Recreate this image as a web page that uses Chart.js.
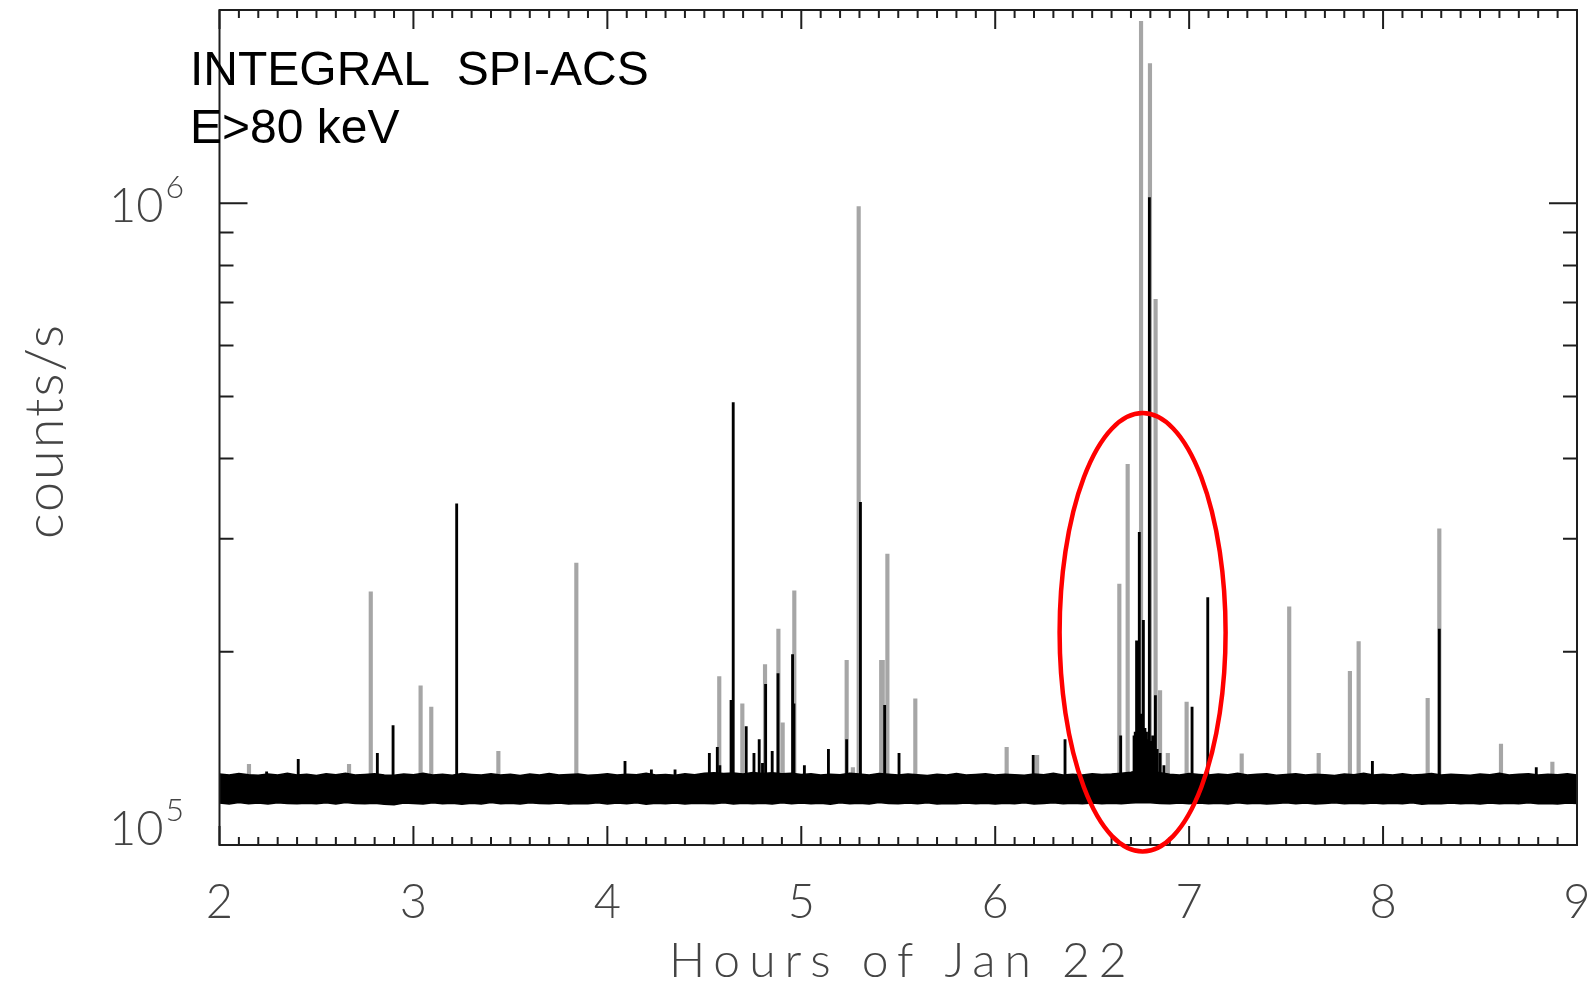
<!DOCTYPE html>
<html>
<head>
<meta charset="utf-8">
<title>INTEGRAL SPI-ACS, Jan 22</title>
<script src="https://cdn.jsdelivr.net/npm/chart.js@4.4.1/dist/chart.umd.min.js"></script>
<style>
  html, body { margin: 0; padding: 0; background: #fff; }
  #wrap { width: 1593px; height: 983px; position: relative; }
</style>
</head>
<body>
<div id="wrap"><canvas id="lc"></canvas></div>
<script>
// axes: hours of Jan 22 vs counts/s (log)
const xMin = 2, xMax = 9;
const yMin = 1e5, yMax = 2e6;
const xTickLabels = ['2', '3', '4', '5', '6', '7', '8', '9'];
const yMajorTicks = [1e5, 1e6];
const yMajorExp = ['5', '6'];
const yMinorTicks = [2e5, 3e5, 4e5, 5e5, 6e5, 7e5, 8e5, 9e5];

// noisy background level, upper and lower edge of the band
const bandTimes = [
  2.00, 2.05, 2.10, 2.15, 2.20, 2.25, 2.30, 2.35, 2.40, 2.45,
  2.50, 2.55, 2.60, 2.65, 2.70, 2.75, 2.80, 2.85, 2.90, 2.95,
  3.00, 3.05, 3.10, 3.15, 3.20, 3.25, 3.30, 3.35, 3.40, 3.45,
  3.50, 3.55, 3.60, 3.65, 3.70, 3.75, 3.80, 3.85, 3.90, 3.95,
  4.00, 4.05, 4.10, 4.15, 4.20, 4.25, 4.30, 4.35, 4.40, 4.45,
  4.50, 4.55, 4.60, 4.65, 4.70, 4.75, 4.80, 4.85, 4.90, 4.95,
  5.00, 5.05, 5.10, 5.15, 5.20, 5.25, 5.30, 5.35, 5.40, 5.45,
  5.50, 5.55, 5.60, 5.65, 5.70, 5.75, 5.80, 5.85, 5.90, 5.95,
  6.00, 6.05, 6.10, 6.15, 6.20, 6.25, 6.30, 6.35, 6.40, 6.45,
  6.50, 6.55, 6.60, 6.65, 6.70, 6.75, 6.80, 6.85, 6.90, 6.95,
  7.00, 7.05, 7.10, 7.15, 7.20, 7.25, 7.30, 7.35, 7.40, 7.45,
  7.50, 7.55, 7.60, 7.65, 7.70, 7.75, 7.80, 7.85, 7.90, 7.95,
  8.00, 8.05, 8.10, 8.15, 8.20, 8.25, 8.30, 8.35, 8.40, 8.45,
  8.50, 8.55, 8.60, 8.65, 8.70, 8.75, 8.80, 8.85, 8.90, 8.95,
  9.00
];
const bandHigh = [
  129000, 128600, 129200, 128700, 128400, 129000, 128600, 129300, 128500, 128900,
  128300, 129100, 128700, 129300, 128500, 128800, 129100, 128600, 128400, 129000,
  128700, 129400, 128500, 128900, 128400, 129200, 128800, 128500, 129100, 128600,
  128900, 128300, 129000, 128600, 129200, 128500, 128800, 129000, 128400, 128700,
  129100, 128500, 128900, 128700, 129300, 128600, 128800, 128400, 129100, 128700,
  129400, 129600, 129200, 129500, 129000, 129700, 129300, 129600, 129100, 129400,
  128800, 129100, 128500, 128900, 128700, 129300, 129000, 128600, 129200, 128900,
  128500, 129000, 128700, 128300, 128900, 128600, 129200, 128500, 128800, 129100,
  128500, 128900, 128700, 128400, 129000, 128700, 129300, 128600, 128900, 128500,
  129100, 128800, 129000, 129400, 129800, 130800, 130300, 129600, 128900, 128600,
  129200, 128800, 128500, 129000, 128700, 129300, 128600, 128900, 129100, 128400,
  128800, 129100, 128600, 128900, 128700, 128300, 129000, 128700, 129300, 128500,
  128900, 128600, 129100, 128500, 128800, 129200, 128600, 128900, 128700, 128400,
  129000, 128700, 129300, 128600, 128900, 129100, 128500, 128900, 128700, 129100,
  128600
];
const bandLow = [
  116300, 115900, 116500, 116000, 116300, 115800, 116400, 116100, 115900, 116200,
  116000, 116400, 115800, 116500, 116100, 115900, 116200, 115700, 115500, 116300,
  116100, 115800, 116400, 116000, 116200, 115700, 116200, 115900, 116500, 116000,
  116200, 115800, 116400, 116100, 115900, 116300, 115800, 116100, 116000, 116400,
  115900, 116300, 116000, 116400, 115700, 116200, 115900, 116300, 115800, 116200,
  116100, 115900, 116400, 115800, 116200, 116000, 116200, 115800, 116400, 116000,
  116300, 115900, 116200, 115700, 116400, 116000, 116200, 115800, 116500, 116100,
  115900, 116300, 116000, 116400, 115800, 116100, 115900, 116300, 116000, 116200,
  115800, 116200, 116000, 116400, 115800, 116100, 116400, 115900, 116200, 116000,
  116300, 115900, 116200, 116000, 116300, 116500, 116400, 116100, 115900, 116300,
  116000, 116300, 115900, 116200, 115800, 116400, 116000, 116200, 115800, 116100,
  116400, 116000, 116300, 115800, 116100, 116400, 115900, 116200, 116000, 116300,
  115900, 116200, 116000, 116400, 115700, 116100, 115900, 116300, 116000, 116200,
  115800, 116300, 116000, 116200, 115900, 116400, 116000, 116100, 115800, 116300,
  116100
];

// spikes in the grey curve
const grayTimes = [
  2.152, 2.668, 2.780, 3.037, 3.092, 3.438, 3.840, 4.577, 4.696, 4.813,
  4.882, 4.904, 4.964, 5.234, 5.266, 5.296, 5.412, 5.420, 5.444, 5.588,
  6.059, 6.216, 6.640, 6.683, 6.752, 6.798, 6.827, 6.850, 6.890, 6.987,
  7.271, 7.516, 7.668, 7.829, 7.874, 8.230, 8.290, 8.608, 8.873
];
const grayPeaks = [
  133600, 133600, 248000, 177000, 164000, 140000, 275000, 183000, 166000, 191000,
  217000, 155000, 249000, 194000, 132000, 988000, 194000, 194000, 284000, 169000,
  142000, 138000, 255000, 392000, 1920000, 1650000, 708000, 174000, 139000, 167000,
  138700, 235000, 139000, 186400, 207500, 169300, 311000, 143600, 134600
];

// spikes in the black curve
const blackTimes = [
  2.243, 2.406, 2.814, 2.895, 3.223, 4.091, 4.227, 4.349, 4.526, 4.567,
  4.580, 4.638, 4.649, 4.716, 4.756, 4.783, 4.800, 4.816, 4.850, 4.880,
  4.955, 4.962, 5.016, 5.140, 5.234, 5.305, 5.430, 5.504, 6.196, 6.360,
  6.647, 6.716, 6.722, 6.729, 6.735, 6.743, 6.750, 6.757, 6.764, 6.772,
  6.780, 6.788, 6.795, 6.805, 6.812, 6.826, 6.835, 6.850, 6.870, 7.015,
  7.096, 7.945, 8.290, 8.790
];
const blackPeaks = [
  130000, 136000, 139000, 153500, 340000, 135000, 131000, 131000, 139000, 142000,
  133000, 168000, 489000, 153000, 139000, 146000, 134000, 178000, 140000, 185000,
  198000, 166000, 133000, 141000, 146000, 342000, 165000, 139000, 138000, 146000,
  148000, 148000, 150000, 208000, 152000, 307000, 160000, 155000, 224000, 152000,
  150000, 146000, 1020000, 145000, 148000, 171000, 141000, 139000, 133000, 164000,
  243000, 135000, 217000, 132000
];
const spikeBase = 122000;

// red ring drawn round the burst
const ringCentre = 6.76, ringHalfWidth = 0.428, ringTop = 471000, ringBottom = 97700;

const thinFont = 'Lato, "DejaVu Sans", sans-serif';

const frame = {
	id: 'frame',
	afterDraw(chart) {
		const ctx = chart.ctx;
		const a = chart.chartArea;
		const x = chart.scales.x, y = chart.scales.y;
		ctx.save();

		// box and inward ticks
		ctx.strokeStyle = '#1e1e1e';
		ctx.lineWidth = 2;
		ctx.strokeRect(a.left, a.top, a.right - a.left, a.bottom - a.top);
		ctx.beginPath();
		for (let i = 0; i <= (xMax - xMin) * 10; i++) {
			const px = x.getPixelForValue(xMin + i / 10);
			const len = i % 10 === 0 ? 19 : 8;
			ctx.moveTo(px, a.bottom); ctx.lineTo(px, a.bottom - len);
			ctx.moveTo(px, a.top); ctx.lineTo(px, a.top + len);
		}
		yMajorTicks.concat(yMinorTicks).forEach(v => {
			const py = y.getPixelForValue(v);
			const len = yMajorTicks.includes(v) ? 28 : 14;
			ctx.moveTo(a.left, py); ctx.lineTo(a.left + len, py);
			ctx.moveTo(a.right, py); ctx.lineTo(a.right - len, py);
		});
		ctx.stroke();

		// y labels 10^5, 10^6
		ctx.fillStyle = '#444';
		ctx.textBaseline = 'alphabetic';
		yMajorTicks.forEach((v, i) => {
			const base = Math.min(y.getPixelForValue(v) + 19, a.bottom);
			ctx.font = '300 47px ' + thinFont;
			ctx.textAlign = 'right';
			ctx.fillText('10', a.left - 56, base);
			ctx.font = '300 32px ' + thinFont;
			ctx.textAlign = 'left';
			ctx.fillText(yMajorExp[i], a.left - 54, base - 24);
		});

		// axis titles
		ctx.font = '300 48px ' + thinFont;
		ctx.textAlign = 'center';
		ctx.letterSpacing = '9px';
		ctx.fillText('Hours of Jan 22', (a.left + a.right) / 2 + 4, 977);
		ctx.save();
		ctx.translate(63, 431);
		ctx.rotate(-Math.PI / 2);
		ctx.font = '300 54px ' + thinFont;
		ctx.letterSpacing = '2px';
		ctx.fillText('counts/s', 0, 0);
		ctx.restore();
		ctx.letterSpacing = '0px';

		// instrument note
		ctx.fillStyle = '#000';
		ctx.textAlign = 'left';
		ctx.font = '48px "Liberation Sans", Arial, sans-serif';
		ctx.fillText('INTEGRAL  SPI-ACS', 190, 85);
		ctx.fillText('E>80 keV', 190, 143);

		// red ring
		const cx = x.getPixelForValue(ringCentre);
		const rx = x.getPixelForValue(ringCentre + ringHalfWidth) - cx;
		const top = y.getPixelForValue(ringTop), bot = y.getPixelForValue(ringBottom);
		ctx.strokeStyle = '#ff0000';
		ctx.lineWidth = 4.5;
		ctx.beginPath();
		ctx.ellipse(cx, (top + bot) / 2, rx, (bot - top) / 2, 0, 0, Math.PI * 2);
		ctx.stroke();

		ctx.restore();
	}
};

const spikes = (times, peaks) => times.map((t, i) => ({ x: t, y: [spikeBase, peaks[i]] }));
const band = vals => bandTimes.map((t, i) => ({ x: t, y: vals[i] }));

new Chart(document.getElementById('lc'), {
	type: 'bar',
	data: {
		datasets: [
			{
				label: 'grey',
				data: spikes(grayTimes, grayPeaks),
				backgroundColor: '#a6a6a6',
				barThickness: 3.5,
				grouped: false,
				order: 3,
			},
			{
				type: 'line',
				label: 'band top',
				data: band(bandHigh),
				borderColor: '#000',
				backgroundColor: '#000',
				borderWidth: 1.5,
				pointRadius: 0,
				fill: '+1',
				order: 2,
			},
			{
				type: 'line',
				label: 'band bottom',
				data: band(bandLow),
				borderColor: '#000',
				borderWidth: 1.5,
				pointRadius: 0,
				fill: false,
				order: 2,
			},
			{
				label: 'black',
				data: spikes(blackTimes, blackPeaks),
				backgroundColor: '#000',
				barThickness: 2.2,
				grouped: false,
				order: 1,
			},
		]
	},
	options: {
		responsive: true,
		maintainAspectRatio: false,
		devicePixelRatio: 1,
		animation: false,
		layout: { padding: { top: 10, right: 16, left: 0, bottom: 0 } },
		plugins: { legend: { display: false }, tooltip: { enabled: false } },
		scales: {
			x: {
				type: 'linear',
				min: xMin,
				max: xMax,
				offset: false,
				grid: { display: false, drawTicks: false, offset: false },
				border: { display: false },
				ticks: {
					stepSize: 1,
					autoSkip: false,
					maxRotation: 0,
					padding: 30,
					color: '#444',
					font: { family: thinFont, size: 47, weight: '300' },
					callback: v => xTickLabels[v - xMin],
				},
				afterFit: s => {
					s.height = 138;
					s.paddingLeft = 0;
					s.paddingRight = 0;
				},
			},
			y: {
				type: 'logarithmic',
				min: yMin,
				max: yMax,
				grid: { display: false, drawTicks: false },
				border: { display: false },
				ticks: { display: false },
				afterFit: s => { s.width = 219.5; },
			}
		}
	},
	plugins: [frame]
});
</script>
</body>
</html>
